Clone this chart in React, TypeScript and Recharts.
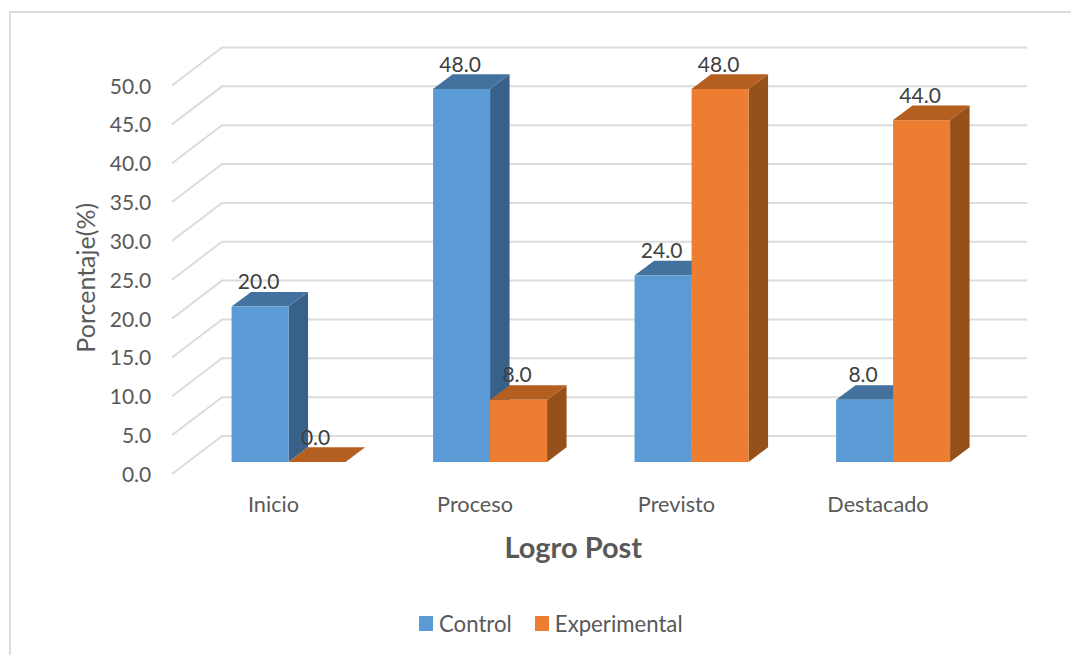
import React from "react";
import { BarChart, Bar, XAxis, YAxis, CartesianGrid, Legend, LabelList, Label } from "recharts";

const categories = ["Inicio", "Proceso", "Previsto", "Destacado"];
const controlValues = [20, 48, 24, 8];
const experimentalValues = [0, 8, 48, 44];
const yTicks = [0, 5, 10, 15, 20, 25, 30, 35, 40, 45, 50];

const tableData = categories.map((name, i) => ({
  name,
  Control: controlValues[i],
  Experimental: experimentalValues[i],
}));

const FONT = "Lato, 'Open Sans', sans-serif";
const TEXT = "#595959";
const LABEL = "#404040";
const GRID = "#DCDCDC";
const DX = 19.5;
const DY = 14.7;

const makeBar = (front: string, side: string, top: string) => (props: any) => {
  const { x, y, width, height } = props;
  const b = y + height;
  return (
    <g>
      {height > 0 && (
        <path d={`M${x + width} ${y}L${x + width + DX} ${y - DY}L${x + width + DX} ${b - DY}L${x + width} ${b}Z`} fill={side} />
      )}
      <path d={`M${x} ${y}L${x + DX} ${y - DY}L${x + width + DX} ${y - DY}L${x + width} ${y}Z`} fill={top} />
      {height > 0 && <rect x={x} y={y} width={width} height={height} fill={front} />}
    </g>
  );
};

const GridLine = (p: any) => {
  const { x1, x2, y1 } = p;
  return (
    <g key={p.key ?? y1}>
      <path d={`M${x1 - 16.25} ${y1 + 12}L${x1 + 33.75} ${y1 - 26}L${x2 + 33} ${y1 - 26}`} fill="none" stroke={GRID} strokeWidth={2} />
    </g>
  );
};

const YTick = (p: any) => (
  <text x={p.x} y={p.y + 11.5} textAnchor="end" dominantBaseline="central" fontFamily={FONT} fontSize={21} fill={TEXT}>
    {Number(p.payload.value).toFixed(1)}
  </text>
);

const XTick = (p: any) => (
  <text x={p.x - 15.5} y={503.5} textAnchor="middle" dominantBaseline="central" fontFamily={FONT} fontSize={21.7} fill={TEXT}>
    {p.payload.value}
  </text>
);

const ValueLabel = (p: any) => (
  <text x={p.x + p.width / 2 - 1.5} y={p.y - 26} textAnchor="middle" dominantBaseline="central" fontFamily={FONT} fontSize={21} fill={LABEL}>
    {Number(p.value).toFixed(1)}
  </text>
);

const YTitle = (p: any) => {
  const cx = 85;
  const cy = p.viewBox.y + p.viewBox.height / 2 + 10;
  return (
    <text x={cx} y={cy} transform={`rotate(-90 ${cx} ${cy})`} textAnchor="middle" dominantBaseline="central" fontFamily={FONT} fontSize={25} fill={TEXT}>
      Porcentaje(%)
    </text>
  );
};

const XTitle = (p: any) => (
  <text x={p.viewBox.x + p.viewBox.width / 2 - 18} y={546.5} textAnchor="middle" dominantBaseline="central" fontFamily={FONT} fontSize={29} fontWeight={700} fill={TEXT}>
    Logro Post
  </text>
);

const LegendContent = (p: any) => (
  <div style={{ display: "flex", justifyContent: "flex-start", alignItems: "center", height: 30, paddingLeft: 419, fontFamily: FONT, fontSize: 22.2, color: TEXT }}>
    {(p.payload || []).map((e: any) => (
      <div key={e.value} style={{ display: "flex", alignItems: "center", marginRight: 23 }}>
        <span style={{ width: 14, height: 15, background: e.color, marginRight: 6, display: "inline-block" }} />
        <span>{e.value}</span>
      </div>
    ))}
  </div>
);

export default function App() {
  return (
    <div style={{ position: "fixed", left: 0, top: 0, width: 1071, height: 655, overflow: "hidden", background: "#fff" }}>
      <div style={{ position: "absolute", left: 9, top: 11, width: 1062, height: 644, borderLeft: `2px solid ${GRID}`, borderTop: `2px solid ${GRID}`, boxSizing: "border-box" }} />
      <div style={{ position: "absolute", left: 0, top: 0 }}>
        <BarChart
          width={1071}
          height={655}
          data={tableData}
          margin={{ top: 73.5, right: 76.75, bottom: 103, left: 20 }}
          barCategoryGap="21.5%"
          barGap={0}
        >
          <CartesianGrid vertical={false} horizontal={GridLine} horizontalValues={yTicks} />
          <XAxis dataKey="name" height={60} axisLine={false} tickLine={false} tick={XTick} interval={0}>
            <Label content={XTitle} />
          </XAxis>
          <YAxis width={168.25} domain={[0, 50]} ticks={yTicks} axisLine={false} tickLine={false} tickSize={0} tickMargin={37} tick={YTick} interval={0}>
            <Label content={YTitle} />
          </YAxis>
          <Legend verticalAlign="bottom" height={30} wrapperStyle={{ left: 0, width: 1071, top: 608, bottom: "auto" }} content={LegendContent} />
          <Bar dataKey="Control" fill="#5B9BD5" isAnimationActive={false} shape={makeBar("#5B9BD5", "#38618A", "#44729F")}>
            <LabelList dataKey="Control" content={ValueLabel} />
          </Bar>
          <Bar dataKey="Experimental" fill="#ED7D31" isAnimationActive={false} shape={makeBar("#ED7D31", "#955119", "#B45F20")}>
            <LabelList dataKey="Experimental" content={ValueLabel} />
          </Bar>
        </BarChart>
      </div>
    </div>
  );
}
